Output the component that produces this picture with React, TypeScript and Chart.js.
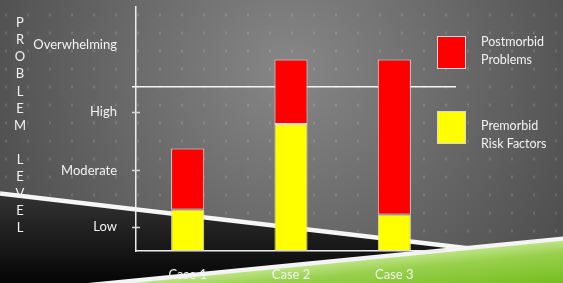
import { useEffect, useRef } from "react";
import { Chart, registerables } from "chart.js";

Chart.register(...registerables);

// ---- data ----
const CATEGORIES = ["Case 1", "Case 2", "Case 3"];
const PREMORBID = [17, 52, 15];
const POSTMORBID = [25, 26.5, 63.5];
const PREMORBID_LABEL = ["Premorbid", "Risk Factors"];
const POSTMORBID_LABEL = ["Postmorbid", "Problems"];
const LEVEL_VALUES = [10, 33, 57, 84.5];
const LEVEL_LABELS = ["Low", "Moderate", "High", "Overwhelming"];
const TICK_MARK_VALUES = [10, 33, 57];
const THRESHOLD = 67.3;
const Y_MIN = 0;
const Y_MAX = 100;
const AXIS_TITLE = "PROBLEM LEVEL";

// ---- styles ----
const FONT = "Lato, 'Open Sans', sans-serif";
const TEXT = "#f2f2f2";
const RED = "#ff0000";
const YELLOW = "#ffff00";

const decor = {
  id: "decor",
  beforeDraw(chart: any) {
    const { ctx, width: W, height: H } = chart;
    ctx.save();
    const g = ctx.createRadialGradient(290, 70, 10, 290, 70, 340);
    g.addColorStop(0, "#858585");
    g.addColorStop(1, "#4a4a4a");
    ctx.fillStyle = g;
    ctx.fillRect(0, 0, W, H);
    ctx.fillStyle = "rgba(255,255,255,0.13)";
    for (let y = 13.5; y < H; y += 18) {
      for (let x = 5; x < W; x += 22) ctx.fillRect(x, y, 2, 3);
    }
    const bg = ctx.createLinearGradient(0, 195, 0, 283);
    bg.addColorStop(0, "#333333");
    bg.addColorStop(1, "#050505");
    ctx.fillStyle = bg;
    ctx.beginPath();
    ctx.moveTo(0, 192);
    ctx.lineTo(470, 247);
    ctx.lineTo(470, H);
    ctx.lineTo(0, H);
    ctx.closePath();
    ctx.fill();
    ctx.strokeStyle = "#f6f6f6";
    ctx.lineWidth = 4.5;
    ctx.beginPath();
    ctx.moveTo(0, 193.5);
    ctx.lineTo(470, 248.5);
    ctx.stroke();
    ctx.fillStyle = "#f4f4f4";
    ctx.beginPath();
    ctx.moveTo(0, 291.6);
    ctx.lineTo(W, 291.6 - 0.098 * W);
    ctx.lineTo(W, H);
    ctx.lineTo(0, H);
    ctx.closePath();
    ctx.fill();
    const gg = ctx.createLinearGradient(300, 266.6, 304.1, 308);
    gg.addColorStop(0, "#bce283");
    gg.addColorStop(0.3, "#98d04c");
    gg.addColorStop(1, "#76be20");
    ctx.fillStyle = gg;
    ctx.beginPath();
    ctx.moveTo(0, 296);
    ctx.lineTo(W, 296 - 0.098 * W);
    ctx.lineTo(W, H);
    ctx.lineTo(0, H);
    ctx.closePath();
    ctx.fill();
    ctx.restore();
  },
  beforeDatasetsDraw(chart: any) {
    const { ctx, chartArea } = chart;
    const y = chart.scales.y.getPixelForValue(THRESHOLD);
    ctx.save();
    ctx.strokeStyle = "#f4f4f4";
    ctx.lineWidth = 1.5;
    ctx.beginPath();
    ctx.moveTo(chartArea.left - 4, y);
    ctx.lineTo(chartArea.right + 10, y);
    ctx.stroke();
    ctx.restore();
  },
  afterDraw(chart: any) {
    const { ctx, chartArea } = chart;
    const ys = chart.scales.y;
    ctx.save();
    ctx.strokeStyle = "#d8d8d8";
    ctx.lineWidth = 1.5;
    TICK_MARK_VALUES.forEach((v) => {
      const y = Math.round(ys.getPixelForValue(v)) + 0.5;
      ctx.beginPath();
      ctx.moveTo(chartArea.left - 4, y);
      ctx.lineTo(chartArea.left + 4, y);
      ctx.stroke();
    });
    ctx.fillStyle = TEXT;
    ctx.font = `13px ${FONT}`;
    ctx.textAlign = "center";
    ctx.textBaseline = "middle";
    AXIS_TITLE.split("").forEach((ch, i) => {
      if (ch !== " ") ctx.fillText(ch, 20, 23 + 17.08 * i);
    });
    const items = [
      { lines: POSTMORBID_LABEL, color: chart.data.datasets[1].backgroundColor, boxTop: 36, textTop: 42 },
      { lines: PREMORBID_LABEL, color: chart.data.datasets[0].backgroundColor, boxTop: 111, textTop: 126 },
    ];
    ctx.font = `12.5px ${FONT}`;
    items.forEach((it) => {
      ctx.fillStyle = it.color;
      ctx.fillRect(437.5, it.boxTop, 28, 32);
      ctx.strokeStyle = "#d9d9d9";
      ctx.lineWidth = 1;
      ctx.strokeRect(437.5, it.boxTop + 0.5, 28, 32);
      ctx.fillStyle = TEXT;
      ctx.textAlign = "left";
      ctx.textBaseline = "middle";
      it.lines.forEach((ln, i) => ctx.fillText(ln, 481, it.textTop + 17.5 * i));
    });
    ctx.restore();
  },
};

export default function App() {
  const ref = useRef<HTMLCanvasElement>(null);
  useEffect(() => {
    const chart = new Chart(ref.current as HTMLCanvasElement, {
      type: "bar",
      data: {
        labels: CATEGORIES,
        datasets: [
          {
            label: PREMORBID_LABEL.join(" "),
            data: PREMORBID,
            backgroundColor: YELLOW,
            borderColor: "#dcdcdc",
            borderWidth: 1,
            borderSkipped: false,
            categoryPercentage: 1,
            barPercentage: 0.32,
          },
          {
            label: POSTMORBID_LABEL.join(" "),
            data: POSTMORBID,
            backgroundColor: RED,
            borderColor: "#dcdcdc",
            borderWidth: 1,
            borderSkipped: false,
            categoryPercentage: 1,
            barPercentage: 0.32,
          },
        ],
      },
      options: {
        animation: false,
        responsive: false,
        devicePixelRatio: 1,
        layout: { padding: { top: 7, right: 117, left: 0, bottom: 0 } },
        plugins: { legend: { display: false }, tooltip: { enabled: false } },
        scales: {
          x: {
            stacked: true,
            grid: { display: false, drawTicks: false, tickLength: 0 },
            border: { display: true, color: "#ececec", width: 1.5 },
            ticks: { color: TEXT, font: { family: FONT, size: 13 }, padding: 16, maxRotation: 0 },
            afterFit: (s: any) => {
              s.height = 32;
              s.paddingLeft = 0;
              s.paddingRight = 0;
            },
          },
          y: {
            stacked: true,
            min: Y_MIN,
            max: Y_MAX,
            grid: { display: false, drawTicks: false, tickLength: 0 },
            border: { display: true, color: "#ececec", width: 1.5 },
            afterBuildTicks: (s: any) => {
              s.ticks = LEVEL_VALUES.map((v) => ({ value: v }));
            },
            ticks: {
              color: TEXT,
              font: { family: FONT, size: 13 },
              padding: 19,
              autoSkip: false,
              callback: (_v: any, i: number) => LEVEL_LABELS[i],
            },
            afterFit: (s: any) => {
              s.width = 136;
              s.paddingTop = 0;
              s.paddingBottom = 0;
            },
          },
        },
      },
      plugins: [decor],
    });
    return () => chart.destroy();
  }, []);
  return (
    <div style={{ position: "absolute", left: 0, top: 0, width: 563, height: 283 }}>
      <canvas ref={ref} width={563} height={283} style={{ display: "block", width: 563, height: 283 }} />
    </div>
  );
}
